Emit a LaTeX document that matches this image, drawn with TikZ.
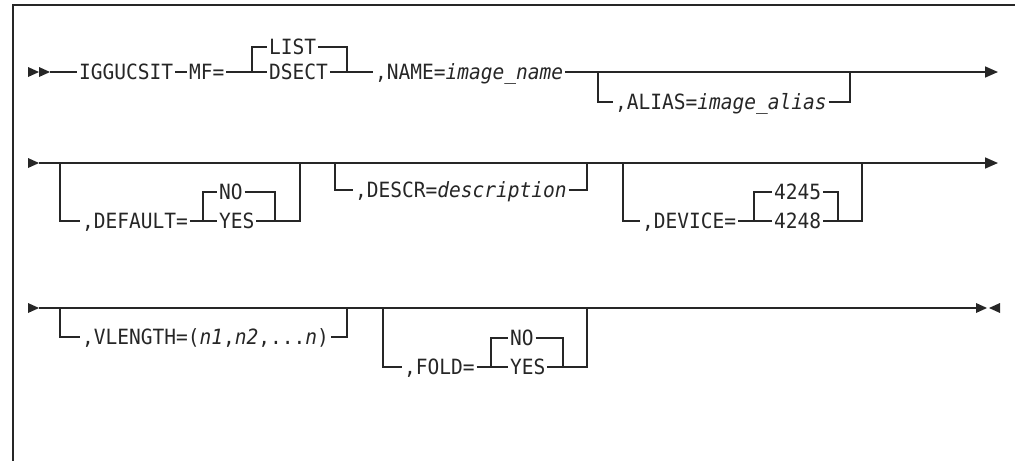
\documentclass[tikz,border=0pt]{standalone}
\usepackage{fontspec}
\newfontfamily\railfont[FakeStretch=0.93]{DejaVu Sans Mono}
\usetikzlibrary{arrows.meta}

\begin{document}
\begin{tikzpicture}[x=0.5pt,y=-0.5pt,line width=0.8pt,color=black!85,
   font=\railfont\fontsize{10.5}{12}\selectfont,
   kw/.style={anchor=west,inner sep=0.6pt,text height=7.6pt,text depth=0pt},
   tri/.pic={\fill (0,-5)--(11,0)--(0,5)--cycle;},
   >={Triangle[length=6.5pt,width=5.5pt]}]
  \useasboundingbox (0,0) rectangle (1015,461);
  \draw (1015,5) -- (13,5) -- (13,461);

  % first line
  \pic at (28,72) {tri}; \pic at (39,72) {tri};
  \coordinate (s1) at (50,72); \coordinate (e1) at (998,72);
  \coordinate (a1) at (252,72); \coordinate (b1) at (347,72);
  \coordinate (c1) at (598,72); \coordinate (d1) at (850,72);
  \node[kw] (iggucsit) at (77,72) {IGGUCSIT};
  \node[kw] (mf) at (187,72) {MF=};
  \node[kw] (list) at (267,47) {LIST};
  \node[kw] (dsect) at (267,72) {DSECT};
  \node[kw] (name) at (373,72) {,NAME=\textit{image\_name}};
  \node[kw] (alias) at (613,102) {,ALIAS=\textit{image\_alias}};
  \draw (s1) -- (iggucsit); \draw (iggucsit) -- (mf); \draw (mf) -- (dsect);
  \draw (a1) |- (list); \draw (list) -| (b1);
  \draw (dsect) -- (name); \draw[->] (name) -- (e1);
  \draw (c1) |- (alias); \draw (alias) -| (d1);

  % second line
  \pic at (28,163) {tri};
  \coordinate (s2) at (39,163); \coordinate (e2) at (998,163);
  \coordinate (a2) at (60,163); \coordinate (b2) at (203,221);
  \coordinate (c2) at (275,221); \coordinate (d2) at (300,163);
  \coordinate (f2) at (335,163); \coordinate (g2) at (587,163);
  \coordinate (h2) at (623,163); \coordinate (i2) at (754,221);
  \coordinate (k2) at (838,221); \coordinate (m2) at (862,163);
  \node[kw] (default) at (80,221) {,DEFAULT=};
  \node[kw] (no1) at (217,192) {NO};
  \node[kw] (yes1) at (217,221) {YES};
  \node[kw] (descr) at (353,190) {,DESCR=\textit{description}};
  \node[kw] (device) at (640,221) {,DEVICE=};
  \node[kw] (v4245) at (772,192) {4245};
  \node[kw] (v4248) at (772,221) {4248};
  \draw[->] (s2) -- (e2);
  \draw (a2) |- (default); \draw (default) -- (yes1);
  \draw (b2) |- (no1); \draw (no1) -| (c2); \draw (yes1) -| (d2);
  \draw (f2) |- (descr); \draw (descr) -| (g2);
  \draw (h2) |- (device); \draw (device) -- (v4248);
  \draw (i2) |- (v4245); \draw (v4245) -| (k2); \draw (v4248) -| (m2);

  % third line
  \pic at (28,308) {tri};
  \coordinate (s3) at (39,308); \coordinate (e3) at (976,308);
  \coordinate (a3) at (60,308); \coordinate (b3) at (347,308);
  \coordinate (c3) at (383,308); \coordinate (d3) at (491,367);
  \coordinate (f3) at (563,367); \coordinate (g3) at (587,308);
  \node[kw] (vlength) at (80,337) {,VLENGTH=(\textit{n1},\textit{n2},...\textit{n})};
  \node[kw] (fold) at (402,367) {,FOLD=};
  \node[kw] (no2) at (508,338) {NO};
  \node[kw] (yes2) at (508,367) {YES};
  \draw (s3) -- (e3);
  \pic at (e3) {tri}; \pic[xscale=-1] at (1000,308) {tri};
  \draw (a3) |- (vlength); \draw (vlength) -| (b3);
  \draw (c3) |- (fold); \draw (fold) -- (yes2);
  \draw (d3) |- (no2); \draw (no2) -| (f3); \draw (yes2) -| (g3);
\end{tikzpicture}
\end{document}
